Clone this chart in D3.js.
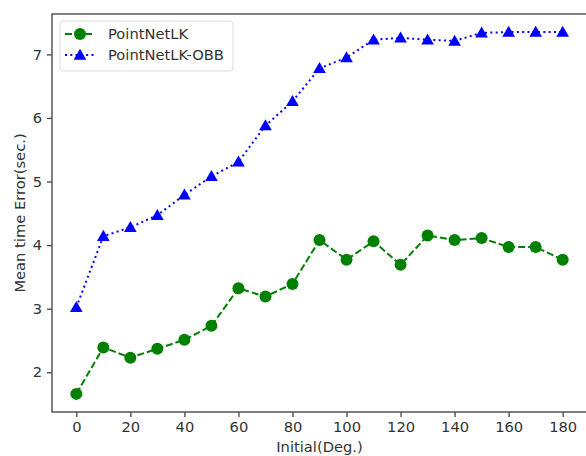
<!DOCTYPE html>
<html>
<head>
<meta charset="utf-8">
<script src="https://cdn.jsdelivr.net/npm/d3@7"></script>
<style>
  body { margin: 0; background: #fff; }
  text { font-family: "DejaVu Sans", sans-serif; fill: #333; }
</style>
</head>
<body>
<div id="chart"></div>
<script>
const angles = [0, 10, 20, 30, 40, 50, 60, 70, 80, 90, 100, 110, 120, 130, 140, 150, 160, 170, 180]
const pointNetLK = [1.66, 2.39, 2.23, 2.37, 2.51, 2.73, 3.32, 3.19, 3.39, 4.08, 3.77, 4.06, 3.69, 4.15, 4.08, 4.11, 3.97, 3.97, 3.77]
const pointNetLKOBB = [3.02, 4.14, 4.28, 4.47, 4.79, 5.08, 5.31, 5.88, 6.26, 6.78, 6.95, 7.23, 7.26, 7.23, 7.21, 7.34, 7.35, 7.35, 7.35]
const xTicks = [0, 20, 40, 60, 80, 100, 120, 140, 160, 180]
const yTicks = [2, 3, 4, 5, 6, 7]
const seriesNames = ["PointNetLK", "PointNetLK-OBB"]

const MARGIN = {LEFT: 52, RIGHT: -1, TOP: 14, BOTTOM: 44}
const W = 586, H = 456
const WIDTH = W - MARGIN.LEFT - MARGIN.RIGHT
const HEIGHT = H - MARGIN.TOP - MARGIN.BOTTOM
const FS = 14.7

const svg = d3.select("#chart").append("svg")
    .attr("width", W)
    .attr("height", H)

const g = svg.append("g")
    .attr("transform", `translate(${MARGIN.LEFT}, ${MARGIN.TOP})`)

// matplotlib style 5% margins
const x = d3.scaleLinear().domain([-9, 189]).range([0, WIDTH])
const y = d3.scaleLinear().domain([1.375, 7.635]).range([HEIGHT, 0])

const xAxis = g.append("g")
    .attr("transform", `translate(0, ${HEIGHT})`)
    .call(d3.axisBottom(x).tickValues(xTicks).tickSize(5).tickPadding(5))
const yAxis = g.append("g")
    .call(d3.axisLeft(y).tickValues(yTicks).tickFormat(d3.format("d")).tickSize(5).tickPadding(5))

for (const ax of [xAxis, yAxis]) {
  ax.select(".domain").remove()
  ax.selectAll(".tick line").attr("stroke", "#444").attr("stroke-width", 1.3)
  ax.selectAll(".tick text").attr("font-size", FS).style("fill", "#333")
    .attr("font-family", "'DejaVu Sans', sans-serif")
}

// frame
g.append("rect")
    .attr("width", WIDTH).attr("height", HEIGHT)
    .attr("fill", "none").attr("stroke", "#555").attr("stroke-width", 1.5)

const line = d3.line().x((d, i) => x(angles[i])).y(d => y(d))

// PointNetLK
g.append("path").datum(pointNetLK)
    .attr("d", line).attr("fill", "none")
    .attr("stroke", "#008000").attr("stroke-width", 2).attr("stroke-dasharray", "7,3")
g.selectAll(".dot").data(pointNetLK).enter().append("circle")
    .attr("cx", (d, i) => x(angles[i])).attr("cy", d => y(d))
    .attr("r", 6).attr("fill", "#008000")

// PointNetLK-OBB
const tri = d3.symbol().type(d3.symbolTriangle).size(70)
g.append("path").datum(pointNetLKOBB)
    .attr("d", line).attr("fill", "none")
    .attr("stroke", "#0000ff").attr("stroke-width", 2).attr("stroke-dasharray", "2,3.3")
g.selectAll(".tri").data(pointNetLKOBB).enter().append("path")
    .attr("transform", (d, i) => `translate(${x(angles[i])}, ${y(d) + 1})`)
    .attr("d", tri).attr("fill", "#0000ff")

// legend
const legend = g.append("g").attr("transform", "translate(8, 7)")
legend.append("rect")
    .attr("width", 173).attr("height", 50).attr("rx", 3)
    .attr("fill", "#fff").attr("stroke", "#ddd")
const items = legend.selectAll(".item").data(seriesNames).enter().append("g")
    .attr("transform", (d, i) => `translate(0, ${13 + i * 21})`)
items.append("line")
    .attr("x1", 5).attr("x2", 35).attr("y1", 0).attr("y2", 0)
    .attr("stroke-width", 2)
    .attr("stroke", (d, i) => i ? "#0000ff" : "#008000")
    .attr("stroke-dasharray", (d, i) => i ? "2,3.3" : "7,3")
items.each(function (d, i) {
  const s = d3.select(this)
  if (i) s.append("path").attr("d", tri).attr("transform", "translate(20, 1)").attr("fill", "#0000ff")
  else s.append("circle").attr("cx", 20).attr("r", 6).attr("fill", "#008000")
})
items.append("text")
    .attr("x", 48).attr("dy", "0.35em")
    .attr("font-size", FS)
    .text(d => d)

// axis labels
svg.append("text")
    .attr("x", MARGIN.LEFT + WIDTH / 2).attr("y", 452)
    .attr("text-anchor", "middle").attr("font-size", FS)
    .text("Initial(Deg.)")
svg.append("text")
    .attr("transform", `translate(25, ${MARGIN.TOP + HEIGHT / 2}) rotate(-90)`)
    .attr("text-anchor", "middle").attr("font-size", FS)
    .text("Mean time Error(sec.)")
</script>
</body>
</html>
